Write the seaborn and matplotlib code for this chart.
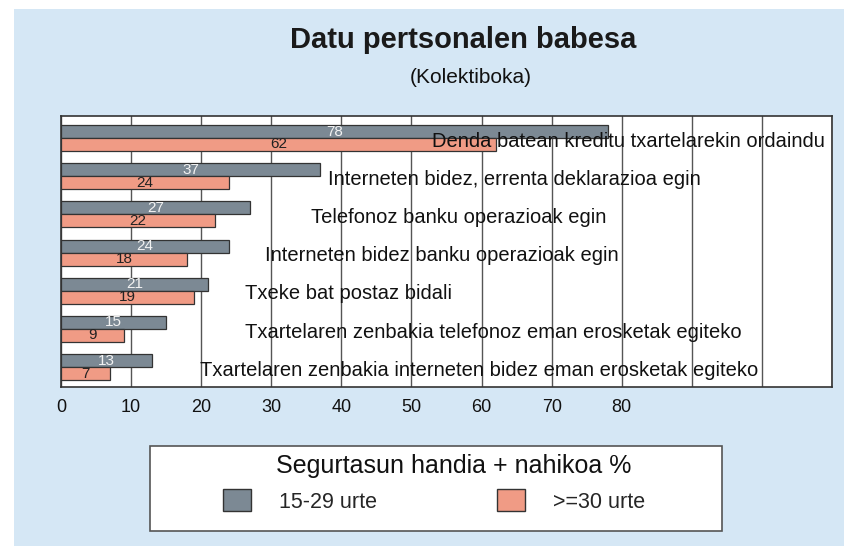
import matplotlib
matplotlib.use("Agg")
import matplotlib.pyplot as plt
import seaborn as sns
import pandas as pd
import numpy as np
from matplotlib.patches import Rectangle, Patch

categories = [
    "Denda batean kreditu txartelarekin ordaindu",
    "Interneten bidez, errenta deklarazioa egin",
    "Telefonoz banku operazioak egin",
    "Interneten bidez banku operazioak egin",
    "Txeke bat postaz bidali",
    "Txartelaren zenbakia telefonoz eman erosketak egiteko",
    "Txartelaren zenbakia interneten bidez eman erosketak egiteko",
]
young = [78, 37, 27, 24, 21, 15, 13]
older = [62, 24, 22, 18, 19, 9, 7]
series_names = ["15-29 urte", ">=30 urte"]
tick_values = [0, 10, 20, 30, 40, 50, 60, 70, 80]

# label anchor (data x) for each category text
label_x = [53.0, 38.1, 35.6, 29.1, 26.3, 26.3, 19.9]

df = pd.DataFrame({
    "cat": categories * 2,
    "val": young + older,
    "grp": [series_names[0]] * len(categories) + [series_names[1]] * len(categories),
})

sns.set_theme(style="white")
plt.rcParams["font.family"] = ["Liberation Sans", "DejaVu Sans"]

BG = "#d5e7f5"
GRAY = "#7c8994"
SALMON = "#f09b85"
W, H = 845, 546

fig = plt.figure(figsize=(8.45, 5.46), dpi=100)
fig.patch.set_facecolor("white")
fig.patches.append(Rectangle((14 / W, 0), 1 - 14 / W, 1 - 9 / H,
                             transform=fig.transFigure, facecolor=BG,
                             edgecolor="none", zorder=-10))

ax = fig.add_axes([61 / W, 1 - 387 / H, 771 / W, 271 / H])
sns.barplot(data=df, y="cat", x="val", hue="grp", orient="h", ax=ax,
            palette=[GRAY, SALMON], width=0.68, gap=0, legend=False,
            edgecolor="#333333", linewidth=0.9, saturation=1)

ax.set_facecolor("white")
ax.set_xlim(0, 110)
ax.set_ylim(6.52, -0.576)
ax.set_xticks(np.arange(0, 111, 10))
ax.set_xticklabels([str(v) if v in tick_values else "" for v in np.arange(0, 111, 10)],
                   fontsize=13)
ax.tick_params(axis="x", length=0, pad=9, colors="#111111")
ax.set_yticks([])
ax.set_xlabel("")
ax.set_ylabel("")
ax.grid(axis="x", color="#555555", linewidth=1.0)
ax.set_axisbelow(True)
for s in ax.spines.values():
    s.set_color("#333333")
    s.set_linewidth(1.2)

for i, cont in enumerate(ax.containers):
    ax.bar_label(cont, labels=[str(v) for v in (young if i == 0 else older)],
                 label_type="center", fontsize=11,
                 color="#f2f2f2" if i == 0 else "#222222")

for i, (c, lx) in enumerate(zip(categories, label_x)):
    ax.text(lx, i + 0.08, c, ha="left", va="center", fontsize=14.5, color="#111111")

fig.text(463 / W, 1 - 40 / H, "Datu pertsonalen babesa", ha="center", va="center",
         fontsize=21, fontweight="bold", color="#1a1a1a")
fig.text(471 / W, 1 - 78 / H, "(Kolektiboka)", ha="center", va="center",
         fontsize=15, color="#111111")

# legend box
fig.patches.append(Rectangle((150 / W, 1 - 531 / H), 572 / W, 85 / H,
                             transform=fig.transFigure, facecolor="white",
                             edgecolor="#555555", linewidth=1.2, zorder=1))
fig.text(454 / W, 1 - 466 / H, "Segurtasun handia + nahikoa %", ha="center",
         va="center", fontsize=18, color="#111111", zorder=3)

handles = [Patch(facecolor=GRAY, edgecolor="#333333"),
           Patch(facecolor=SALMON, edgecolor="#333333")]
leg = fig.legend(handles, series_names, ncol=2, loc="center",
                 bbox_to_anchor=(434 / W, 1 - 501 / H),
                 frameon=False, fontsize=15.5,
                 handlelength=1.3, handleheight=1.16, handletextpad=1.3,
                 borderpad=0, borderaxespad=0, columnspacing=5.6)
leg.set_zorder(3)

fig.savefig("out.png", dpi=100, facecolor=fig.get_facecolor())
